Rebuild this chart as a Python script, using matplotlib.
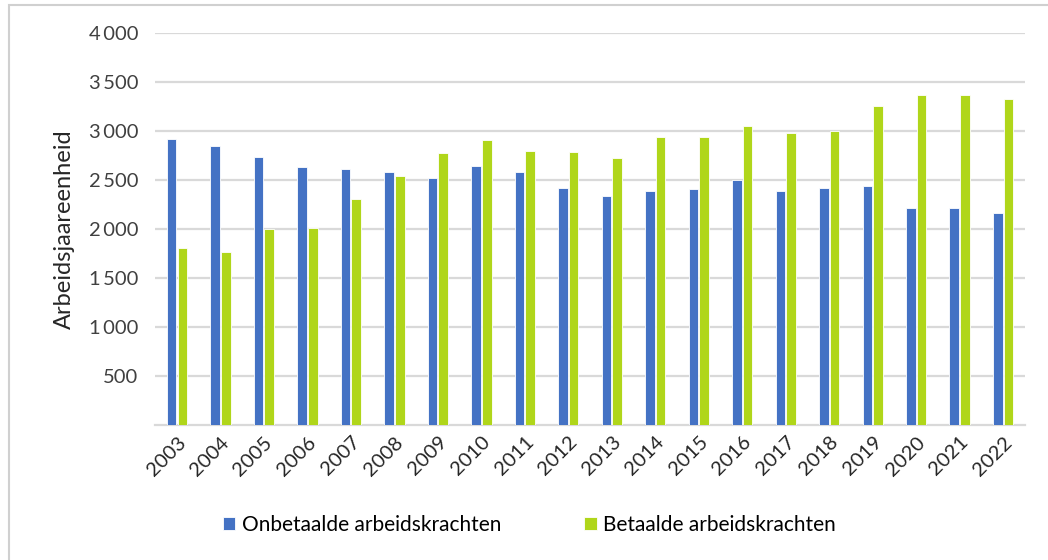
import numpy as np
import matplotlib
matplotlib.use('Agg')
import matplotlib.pyplot as plt
from matplotlib.patches import Rectangle

# Arbeidsjaareenheden per jaar
years = [str(y) for y in range(2003, 2023)]
onbetaald = [2920, 2850, 2740, 2630, 2610, 2580, 2520, 2640, 2580, 2420,
             2340, 2390, 2410, 2500, 2390, 2420, 2440, 2210, 2210, 2160]
betaald = [1810, 1770, 2000, 2010, 2310, 2540, 2775, 2910, 2800, 2785,
           2730, 2940, 2940, 3050, 2980, 3000, 3260, 3370, 3370, 3330]
yticks = [500, 1000, 1500, 2000, 2500, 3000, 3500, 4000]
ytick_labels = ['500', '1\u2009000', '1\u2009500', '2\u2009000', '2\u2009500',
                '3\u2009000', '3\u2009500', '4\u2009000']

plt.rcParams['font.family'] = ['Lato', 'DejaVu Sans']

fig = plt.figure(figsize=(10.48, 5.6), dpi=100)
ax = fig.add_axes([0.148, 0.241, 0.83, 0.70])

x = np.arange(len(years))
w = 0.22
ax.bar(x - w / 2 - 0.015, onbetaald, w, color='#4472C4', edgecolor='white',
       linewidth=0.6, label='Onbetaalde arbeidskrachten', zorder=3)
ax.bar(x + w / 2 + 0.015, betaald, w, color='#B0D61A', edgecolor='white',
       linewidth=0.6, label='Betaalde arbeidskrachten', zorder=3)

ax.set_xlim(-0.5, len(years) - 0.5)
ax.set_ylim(0, 4000)
ax.set_yticks(yticks)
ax.set_yticklabels(ytick_labels, fontsize=14.5, color='#404040')
ax.set_xticks(x)
ax.set_xticklabels(years, rotation=45, ha='right', rotation_mode='anchor',
                   fontsize=14.5, color='#262626')
ax.tick_params(length=0, pad=12)
ax.tick_params(axis='x', pad=6)
ax.yaxis.grid(True, color='#d9d9d9', linewidth=1.6, zorder=0)
for s in ['top', 'right', 'left']:
    ax.spines[s].set_visible(False)
ax.spines['bottom'].set_color('#d9d9d9')
ax.spines['bottom'].set_linewidth(1.6)
ax.set_ylabel('Arbeidsjaareenheid', fontsize=17, color='#262626', labelpad=10)

fig.legend(loc='center', bbox_to_anchor=(0.505, 0.063), ncol=2, frameon=False,
           fontsize=15, handlelength=0.6, handleheight=0.6, handletextpad=0.3,
           columnspacing=4)

# lichtgrijze kader rond de figuur
fig.patches.append(Rectangle((0.0086, -0.1), 1.2, 1.091, transform=fig.transFigure,
                             fill=False, edgecolor='#d0d0d0', linewidth=1.5))

fig.savefig('out.png', dpi=100)
